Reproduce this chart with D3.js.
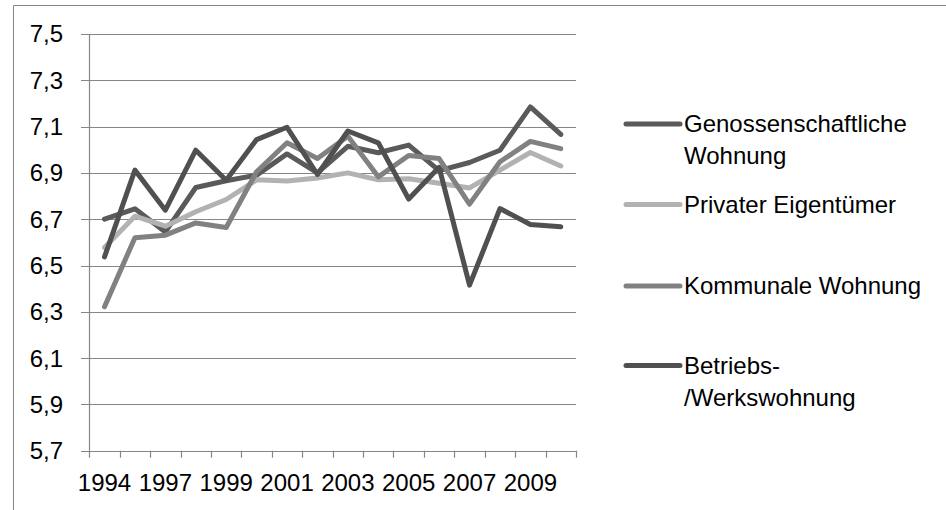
<!DOCTYPE html>
<html>
<head>
<meta charset="utf-8">
<script src="https://cdn.jsdelivr.net/npm/d3@7"></script>
<style>
  body { margin: 0; background: #fff; }
  svg text { font-family: "Liberation Sans", Arial, sans-serif; fill: #000; }
</style>
</head>
<body>
<svg width="946" height="510"></svg>
<script>
// data
const years = [1994, 1995, 1997, 1998, 1999, 2000, 2001, 2002, 2003, 2004, 2005, 2006, 2007, 2008, 2009, 2010];
const yTicks = [5.7, 5.9, 6.1, 6.3, 6.5, 6.7, 6.9, 7.1, 7.3, 7.5];
const seriesNames = ["Genossenschaftliche Wohnung", "Privater Eigentümer", "Kommunale Wohnung", "Betriebs-/Werkswohnung"];
const genossenschaft = [6.70, 6.745, 6.645, 6.837, 6.866, 6.89, 6.982, 6.90, 7.015, 6.987, 7.02, 6.91, 6.945, 6.998, 7.185, 7.066];
const privat = [6.578, 6.713, 6.67, 6.732, 6.785, 6.87, 6.865, 6.878, 6.90, 6.87, 6.875, 6.855, 6.835, 6.912, 6.988, 6.93];
const kommunal = [6.322, 6.62, 6.631, 6.684, 6.664, 6.905, 7.03, 6.962, 7.058, 6.883, 6.975, 6.962, 6.765, 6.948, 7.036, 7.005];
const betrieb = [6.537, 6.912, 6.739, 6.998, 6.868, 7.044, 7.097, 6.893, 7.081, 7.03, 6.787, 6.924, 6.415, 6.746, 6.677, 6.667];
const colors = ["#5a5a5a", "#b2b2b2", "#818181", "#505050"];

const allSeries = [genossenschaft, privat, kommunal, betrieb];
const gridColor = "#868686";
const fontSize = "24px";

const svg = d3.select("svg");

// outer chart border (only top and left visible, the rest is cropped)
svg.append("path")
    .attr("d", "M13.5,510 V5.5 H946")
    .attr("fill", "none")
    .attr("stroke", gridColor)
    .attr("stroke-width", 1);

const x = d3.scaleBand()
    .domain(years)
    .range([89.3, 576])
    .padding(0);
const y = d3.scaleLinear()
    .domain([5.7, 7.5])
    .range([450.7, 34]);

const fmt = v => d3.format(".1f")(v).replace(".", ",");

// gridlines + y ticks
svg.append("g").selectAll("line")
    .data(yTicks)
    .join("line")
    .attr("x1", 81)
    .attr("x2", 576)
    .attr("y1", d => Math.round(y(d)) + 0.5)
    .attr("y2", d => Math.round(y(d)) + 0.5)
    .attr("stroke", gridColor)
    .attr("stroke-width", 1.2);

svg.append("g").selectAll("text")
    .data(yTicks)
    .join("text")
    .attr("x", 63)
    .attr("y", d => y(d))
    .attr("dy", "0.35em")
    .attr("text-anchor", "end")
    .style("font-size", fontSize)
    .text(fmt);

// y axis line
svg.append("line")
    .attr("x1", 89.5).attr("x2", 89.5)
    .attr("y1", y(7.5)).attr("y2", y(5.7))
    .attr("stroke", gridColor)
    .attr("stroke-width", 1.2);

// x axis: tick marks at category boundaries, labels every second category
const boundaries = years.map(d => x(d)).concat([x(years[years.length - 1]) + x.bandwidth()]);
svg.append("g").selectAll("line")
    .data(boundaries)
    .join("line")
    .attr("x1", d => Math.round(d) + 0.5)
    .attr("x2", d => Math.round(d) + 0.5)
    .attr("y1", y(5.7))
    .attr("y2", y(5.7) + 7)
    .attr("stroke", gridColor)
    .attr("stroke-width", 1.2);

const xAxis = d3.axisBottom(x)
    .tickValues(years.filter((d, i) => i % 2 === 0))
    .tickSize(0)
    .tickPadding(0);
const gx = svg.append("g")
    .attr("transform", `translate(0,${y(5.7)})`)
    .call(xAxis);
gx.select(".domain").remove();
gx.selectAll("text")
    .attr("y", 32)
    .attr("dy", "0.35em")
    .style("font-size", fontSize)
    .style("font-family", "'Liberation Sans', Arial, sans-serif")
    .attr("fill", "#000");

// lines
const line = d3.line()
    .x((d, i) => x(years[i]) + x.bandwidth() / 2)
    .y(d => y(d));

svg.append("g").selectAll("path")
    .data(allSeries)
    .join("path")
    .attr("d", line)
    .attr("fill", "none")
    .attr("stroke", (d, i) => colors[i])
    .attr("stroke-width", 5)
    .attr("stroke-linejoin", "round")
    .attr("stroke-linecap", "round");

// legend
const legendRows = [
  { lines: ["Genossenschaftliche", "Wohnung"], y: 124 },
  { lines: ["Privater Eigentümer"], y: 204.5 },
  { lines: ["Kommunale Wohnung"], y: 286 },
  { lines: ["Betriebs-", "/Werkswohnung"], y: 365.5 }
];
const legend = svg.append("g").selectAll("g")
    .data(legendRows)
    .join("g");
legend.append("line")
    .attr("x1", 626).attr("x2", 680)
    .attr("y1", d => d.y).attr("y2", d => d.y)
    .attr("stroke", (d, i) => colors[i])
    .attr("stroke-width", 5)
    .attr("stroke-linecap", "round");
legend.append("text")
    .attr("x", 684)
    .attr("y", d => d.y)
    .style("font-size", fontSize)
    .selectAll("tspan")
    .data(d => d.lines)
    .join("tspan")
    .attr("x", 684)
    .attr("dy", (d, i) => i === 0 ? "0.35em" : "32px")
    .text(d => d);
</script>
</body>
</html>
